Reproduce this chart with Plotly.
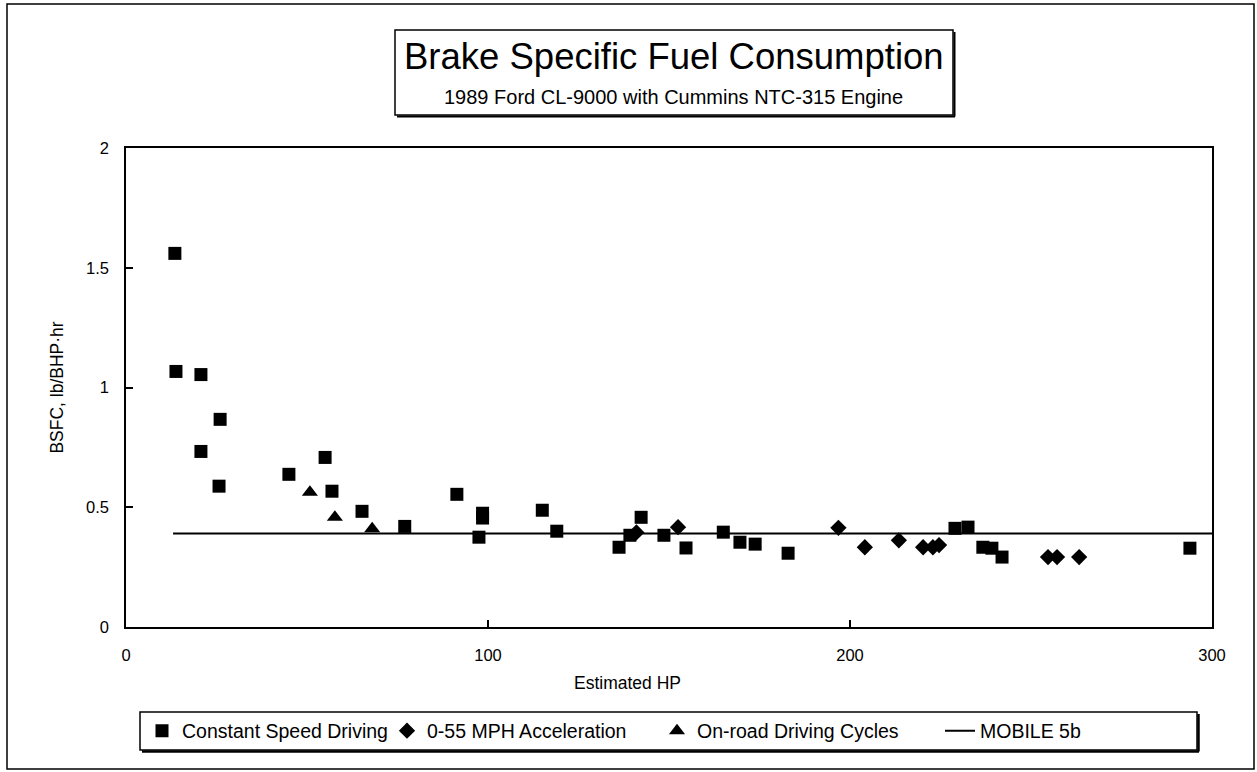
import plotly.graph_objects as go

# ---------------- data ----------------
const_x = [13.5, 13.8, 20.7, 26.0, 20.7, 25.7, 45.0, 55.0, 56.9, 65.2, 77.0, 91.4,
           98.5, 98.5, 97.5, 115.0, 119.0, 136.2, 139.2, 142.3, 148.6, 154.7, 165.0,
           169.6, 173.8, 182.9, 229.0, 232.6, 236.7, 239.2, 242.0, 293.9]
const_y = [1.56, 1.067, 1.054, 0.867, 0.733, 0.588, 0.6375, 0.708, 0.567, 0.483, 0.42, 0.554,
           0.475, 0.455, 0.375, 0.4875, 0.40, 0.333, 0.383, 0.458, 0.383, 0.33, 0.396,
           0.354, 0.346, 0.308, 0.412, 0.417, 0.333, 0.329, 0.292, 0.329]

accel_x = [141.0, 152.5, 196.8, 204.1, 213.5, 220.2, 222.9, 224.6, 254.7, 257.2, 263.3]
accel_y = [0.395, 0.417, 0.414, 0.333, 0.362, 0.333, 0.333, 0.342, 0.292, 0.292, 0.292]

road_x = [50.8, 57.7, 68.0]
road_y = [0.5625, 0.458, 0.41]

mobile_x = [13, 300]
mobile_y = [0.39, 0.39]

x_ticks = [0, 100, 200, 300]
y_ticks = [0, 0.5, 1, 1.5, 2]
y_tick_labels = ["0", "0.5", "1", "1.5", "2"]

FONT = "Liberation Sans, Arial, Helvetica, sans-serif"

# ---------------- figure ----------------
fig = go.Figure()
fig.add_trace(go.Scatter(x=const_x, y=const_y, mode="markers", name="Constant Speed Driving",
                         marker=dict(symbol="square", size=13, color="black"),
                         legendwidth=200))
fig.add_trace(go.Scatter(x=accel_x, y=accel_y, mode="markers", name="0-55 MPH Acceleration",
                         marker=dict(symbol="diamond", size=12.5, color="black"),
                         legendwidth=225))
fig.add_trace(go.Scatter(x=road_x, y=road_y, mode="markers", name="On-road Driving Cycles",
                         marker=dict(symbol="triangle-up", size=14, color="black"),
                         legendwidth=238))
fig.add_trace(go.Scatter(x=mobile_x, y=mobile_y, mode="lines", name="MOBILE 5b",
                         line=dict(color="black", width=2),
                         legendwidth=200))

W, H = 1257, 772
L, R, T, B = 126, 45, 148, 145
PW, PH = W - L - R, H - T - B


def px(xpix):
    return (xpix - L) / PW


def py(ypix):
    return (H - B - ypix) / PH


shapes = []
# page border
shapes.append(dict(type="rect", xref="paper", yref="paper", x0=px(7), x1=px(1254),
                   y0=py(769), y1=py(4), line=dict(color="black", width=1.5)))
# title box + shadow
shapes.append(dict(type="rect", xref="paper", yref="paper", x0=px(395), x1=px(953),
                   y0=py(115), y1=py(30), line=dict(color="black", width=1.5)))
shapes.append(dict(type="line", xref="paper", yref="paper", x0=px(397), x1=px(955),
                   y0=py(116.5), y1=py(116.5), line=dict(color="black", width=2)))
shapes.append(dict(type="line", xref="paper", yref="paper", x0=px(954.5), x1=px(954.5),
                   y0=py(116.5), y1=py(32), line=dict(color="black", width=2)))
# legend box + shadow
shapes.append(dict(type="rect", xref="paper", yref="paper", x0=px(140), x1=px(1197),
                   y0=py(750), y1=py(712), line=dict(color="black", width=1.5)))
shapes.append(dict(type="line", xref="paper", yref="paper", x0=px(142), x1=px(1199),
                   y0=py(751.5), y1=py(751.5), line=dict(color="black", width=2.5)))
shapes.append(dict(type="line", xref="paper", yref="paper", x0=px(1198.5), x1=px(1198.5),
                   y0=py(751.5), y1=py(714), line=dict(color="black", width=2.5)))

annotations = [
    dict(text="Brake Specific Fuel Consumption", xref="paper", yref="paper",
         x=px(674), y=py(57), showarrow=False, xanchor="center", yanchor="middle",
         font=dict(size=36.5, family=FONT, color="black")),
    dict(text="1989 Ford CL-9000 with Cummins NTC-315 Engine", xref="paper", yref="paper",
         x=px(673), y=py(97), showarrow=False, xanchor="center", yanchor="middle",
         font=dict(size=20, family=FONT, color="black")),
    dict(text="Estimated HP", xref="paper", yref="paper",
         x=px(627), y=py(683), showarrow=False, xanchor="center", yanchor="middle",
         font=dict(size=17.5, family=FONT, color="black")),
]

fig.update_layout(
    width=W, height=H,
    margin=dict(l=L, r=R, t=T, b=B, autoexpand=False),
    paper_bgcolor="white", plot_bgcolor="white",
    font=dict(family=FONT, color="black", size=16),
    shapes=shapes, annotations=annotations,
    showlegend=True,
    legend=dict(orientation="h", x=px(142), xanchor="left", y=py(731), yanchor="middle",
                bgcolor="rgba(0,0,0,0)", borderwidth=0,
                font=dict(size=19.5, family=FONT, color="black")),
    xaxis=dict(range=[0, 300], tickvals=x_ticks, ticks="inside", ticklen=7, tickwidth=1.5,
               tickcolor="black", showline=True, linecolor="black", linewidth=1.5, mirror=True,
               showgrid=False, zeroline=False, ticklabelstandoff=12,
               tickfont=dict(size=16.5)),
    yaxis=dict(range=[0, 2], tickvals=y_ticks, ticktext=y_tick_labels, ticks="inside",
               ticklen=7, tickwidth=1.5, tickcolor="black", showline=True, linecolor="black",
               linewidth=1.5, mirror=True, showgrid=False, zeroline=False,
               ticklabelstandoff=12, tickfont=dict(size=16.5),
               title=dict(text="BSFC, lb/BHP·hr", font=dict(size=17.5), standoff=18)),
)

fig.write_html("out.html")
